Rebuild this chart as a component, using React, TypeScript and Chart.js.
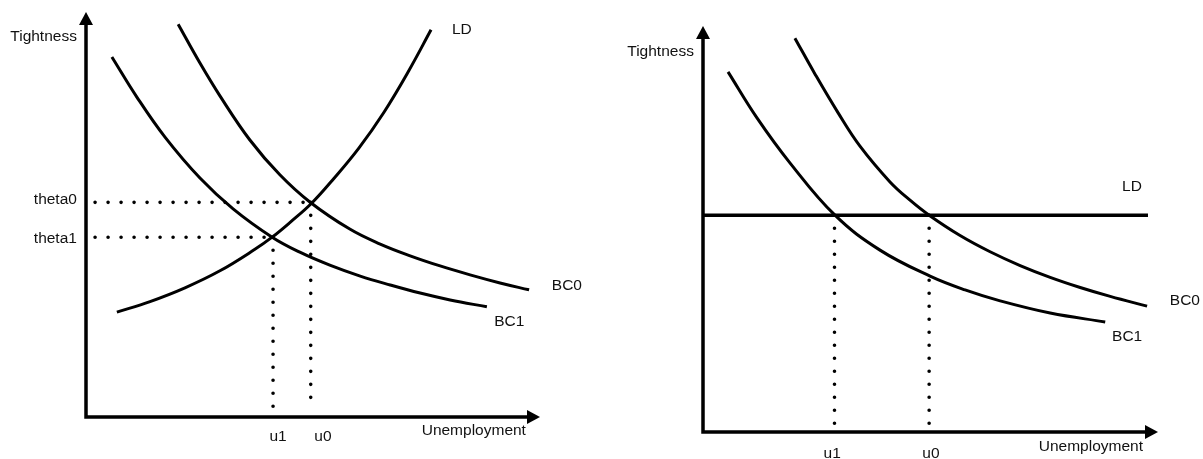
import { useEffect, useRef } from "react";
import { Chart, registerables } from "chart.js";

Chart.register(...registerables);

// ---------------- Left diagram: upward-sloping LD ----------------
const L_LD_X = [6.8, 14.1, 21.8, 29.5, 37.2, 41.0, 44.9, 49.8, 54.6, 60.1, 65.6, 71.1, 76.0];
const L_LD_Y = [25.9, 28.5, 31.9, 36.1, 41.4, 44.4, 48.0, 52.9, 58.9, 66.4, 75.2, 85.5, 95.6];
const L_BC0_X = [20.3, 25.1, 29.5, 36.1, 42.7, 49.3, 58.1, 64.8, 71.4, 78.0, 84.6, 91.2, 97.6];
const L_BC0_Y = [97.0, 87.4, 79.3, 68.4, 59.8, 53.1, 46.4, 42.7, 39.8, 37.3, 35.1, 33.1, 31.4];
const L_BC1_X = [5.7, 11.2, 17.4, 25.1, 32.4, 41.0, 47.1, 53.7, 60.4, 67.0, 73.6, 80.2, 88.3];
const L_BC1_Y = [88.9, 79.0, 69.1, 59.0, 51.4, 44.4, 40.7, 37.5, 34.8, 32.6, 30.6, 28.9, 27.2];
const L_THETA = [53.0, 44.4]; // theta0, theta1
const L_U = [49.5, 41.2]; // u0, u1
const L_THETA_LABELS = ["theta0", "theta1"];
const L_U_LABELS = ["u0", "u1"];

// ---------------- Right diagram: flat LD ----------------
const R_LD_X = [0, 97.8];
const R_LD_LEVEL = 53.4;
const R_BC0_X = [20.2, 24.6, 29.7, 34.5, 41.1, 45.5, 49.7, 56.5, 63.1, 69.7, 76.3, 82.9, 89.5, 97.6];
const R_BC0_Y = [97.0, 88.2, 78.6, 70.4, 61.6, 57.1, 53.4, 48.4, 44.4, 41.0, 38.1, 35.6, 33.4, 31.0];
const R_BC1_X = [5.5, 11.9, 19.1, 29.0, 38.9, 49.9, 57.6, 65.3, 76.3, 88.4];
const R_BC1_Y = [88.7, 77.3, 66.3, 53.4, 44.8, 38.4, 35.0, 32.3, 29.3, 27.1];
const R_U = [49.7, 28.9]; // u0, u1
const R_U_LABELS = ["u0", "u1"];

const AXIS_TITLE_X = "Unemployment";
const AXIS_TITLE_Y = "Tightness";

const FONT = '15.5px "Liberation Sans", Arial, sans-serif';
const INK = "#111";

const zip = (xs: number[], ys: number[]) => xs.map((x, i) => ({ x, y: ys[i] }));

type Label = { text: string; x: number; y: number; align: CanvasTextAlign };

const sketchPlugin = {
  id: "sketch",
  beforeDatasetsDraw(chart: any) {
    const { ctx } = chart;
    const xs = chart.scales.x;
    const ys = chart.scales.y;
    const x0 = xs.getPixelForValue(0);
    const y0 = ys.getPixelForValue(0);
    const xEnd = xs.getPixelForValue(100);
    const yEnd = ys.getPixelForValue(100);
    ctx.save();
    ctx.strokeStyle = "#000";
    ctx.fillStyle = "#000";
    ctx.lineWidth = 3.5;
    ctx.lineJoin = "miter";
    ctx.beginPath();
    ctx.moveTo(x0, yEnd + 10);
    ctx.lineTo(x0, y0);
    ctx.lineTo(xEnd - 10, y0);
    ctx.stroke();
    ctx.beginPath();
    ctx.moveTo(x0, yEnd);
    ctx.lineTo(x0 - 7, yEnd + 13);
    ctx.lineTo(x0 + 7, yEnd + 13);
    ctx.closePath();
    ctx.fill();
    ctx.beginPath();
    ctx.moveTo(xEnd, y0);
    ctx.lineTo(xEnd - 13, y0 - 7);
    ctx.lineTo(xEnd - 13, y0 + 7);
    ctx.closePath();
    ctx.fill();
    ctx.restore();
  },
  afterDatasetsDraw(chart: any, _args: any, opts: any) {
    const { ctx } = chart;
    const xs = chart.scales.x;
    const ys = chart.scales.y;
    ctx.save();
    ctx.font = FONT;
    ctx.fillStyle = INK;
    ctx.textBaseline = "middle";
    (opts.labels as Label[]).forEach((l) => {
      ctx.textAlign = l.align;
      ctx.fillText(l.text, xs.getPixelForValue(l.x), ys.getPixelForValue(l.y));
    });
    ctx.restore();
  },
};

const curve = (data: { x: number; y: number }[], width = 3) => ({
  data,
  showLine: true,
  borderColor: "#000",
  borderWidth: width,
  pointRadius: 0,
  tension: 0.4,
  cubicInterpolationMode: "default" as const,
  clip: false as any,
});

const dotted = (data: { x: number; y: number }[]) => ({
  data,
  showLine: true,
  borderColor: "#000",
  borderWidth: 3.6,
  borderDash: [0, 13],
  borderCapStyle: "round" as const,
  pointRadius: 0,
  clip: false as any,
});

const baseOptions = (padding: any, labels: Label[]) => ({
  responsive: false,
  animation: false as const,
  devicePixelRatio: 1,
  layout: { padding },
  scales: {
    x: { type: "linear" as const, min: 0, max: 100, display: false },
    y: { type: "linear" as const, min: 0, max: 100, display: false },
  },
  plugins: {
    legend: { display: false },
    tooltip: { enabled: false },
    sketch: { labels },
  },
});

function leftConfig(): any {
  const [th0, th1] = L_THETA;
  const [u0, u1] = L_U;
  const labels: Label[] = [
    { text: AXIS_TITLE_Y, x: -2.0, y: 93.8, align: "right" },
    { text: L_THETA_LABELS[0], x: -2.0, y: th0 + 0.6, align: "right" },
    { text: L_THETA_LABELS[1], x: -2.0, y: th1 - 0.4, align: "right" },
    { text: L_U_LABELS[0], x: u0 + 2.7, y: -4.9, align: "center" },
    { text: L_U_LABELS[1], x: u1 + 1.1, y: -4.9, align: "center" },
    { text: AXIS_TITLE_X, x: 96.9, y: -3.5, align: "right" },
    { text: "LD", x: 80.6, y: 95.6, align: "left" },
    { text: "BC0", x: 102.6, y: 32.3, align: "left" },
    { text: "BC1", x: 89.9, y: 23.5, align: "left" },
  ];
  return {
    type: "scatter",
    data: {
      datasets: [
        dotted([{ x: 2, y: th0 }, { x: u0, y: th0 }]),
        dotted([{ x: 2, y: th1 }, { x: L_BC1_X[5], y: th1 }]),
        dotted([{ x: u0, y: th0 }, { x: u0, y: 1.7 }]),
        dotted([{ x: u1, y: th1 }, { x: u1, y: 1.7 }]),
        curve(zip(L_LD_X, L_LD_Y)),
        curve(zip(L_BC0_X, L_BC0_Y)),
        curve(zip(L_BC1_X, L_BC1_Y)),
      ],
    },
    options: baseOptions({ left: 86, right: 61, top: 12, bottom: 42 }, labels),
    plugins: [sketchPlugin],
  };
}

function rightConfig(): any {
  const [u0, u1] = R_U;
  const labels: Label[] = [
    { text: AXIS_TITLE_Y, x: -2.0, y: 93.6, align: "right" },
    { text: R_U_LABELS[0], x: u0 + 0.4, y: -5.4, align: "center" },
    { text: R_U_LABELS[1], x: u1 - 0.5, y: -5.4, align: "center" },
    { text: AXIS_TITLE_X, x: 96.7, y: -3.7, align: "right" },
    { text: "LD", x: 92.1, y: 60.3, align: "left" },
    { text: "BC0", x: 102.6, y: 32.3, align: "left" },
    { text: "BC1", x: 89.9, y: 23.4, align: "left" },
  ];
  return {
    type: "scatter",
    data: {
      datasets: [
        dotted([{ x: u0, y: R_LD_LEVEL }, { x: u0, y: 2.0 }]),
        dotted([{ x: u1, y: R_LD_LEVEL }, { x: u1, y: 2.0 }]),
        curve(R_LD_X.map((x) => ({ x, y: R_LD_LEVEL })), 3.5),
        curve(zip(R_BC0_X, R_BC0_Y)),
        curve(zip(R_BC1_X, R_BC1_Y)),
      ],
    },
    options: baseOptions({ left: 102, right: 45, top: 26, bottom: 27 }, labels),
    plugins: [sketchPlugin],
  };
}

function Panel({ make, left, width }: { make: () => any; left: number; width: number }) {
  const ref = useRef<HTMLCanvasElement | null>(null);
  useEffect(() => {
    if (!ref.current) return;
    const chart = new Chart(ref.current, make());
    return () => chart.destroy();
  }, []);
  return (
    <canvas
      ref={ref}
      width={width}
      height={459}
      style={{ position: "absolute", left, top: 0, width, height: 459 }}
    />
  );
}

export default function App() {
  return (
    <div
      style={{
        position: "fixed",
        left: 0,
        top: 0,
        width: 1203,
        height: 459,
        background: "#fff",
        overflow: "hidden",
      }}
    >
      <Panel make={leftConfig} left={0} width={601} />
      <Panel make={rightConfig} left={601} width={602} />
    </div>
  );
}
